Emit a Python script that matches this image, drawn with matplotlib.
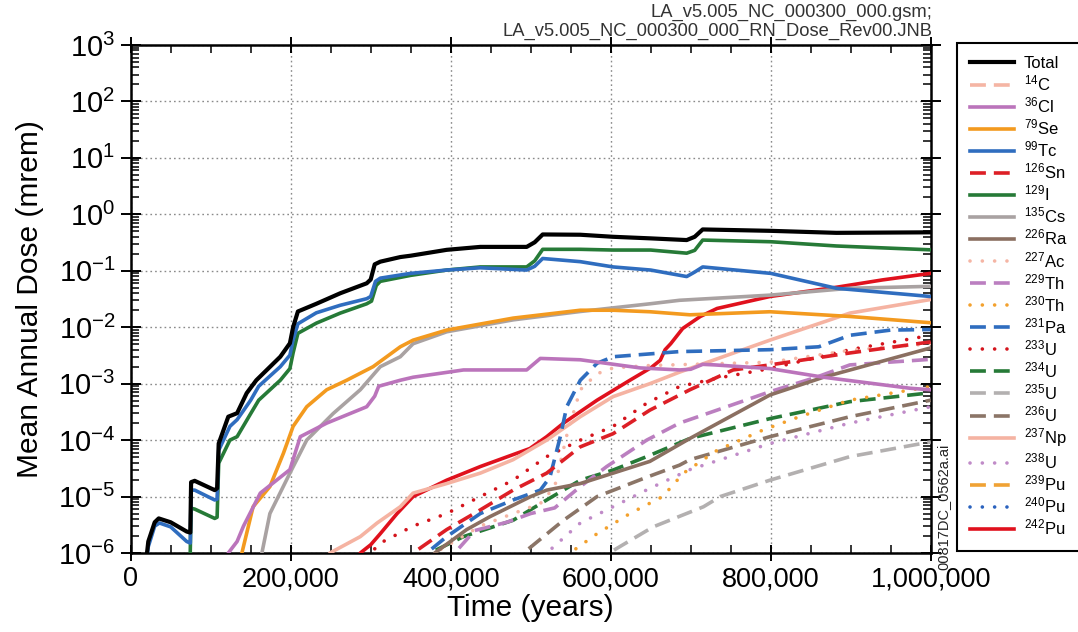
import math
import matplotlib
matplotlib.use("Agg")
import matplotlib.pyplot as plt
from matplotlib.ticker import FixedLocator, LogLocator, FuncFormatter, NullFormatter, MultipleLocator

plt.rcParams['font.family'] = ['Liberation Sans', 'DejaVu Sans']
plt.rcParams['mathtext.fontset'] = 'custom'
plt.rcParams['mathtext.rm'] = 'Liberation Sans'
plt.rcParams['mathtext.it'] = 'Liberation Sans:italic'
plt.rcParams['mathtext.bf'] = 'Liberation Sans:bold'
plt.rcParams['mathtext.default'] = 'regular'

# ---- mean annual dose (mrem) versus time (years) ----
t_total = [18000, 22000, 30000, 35000, 50000, 70000, 74500, 75500, 80000, 105000, 108000, 110000,
           122000, 133000, 145000, 157000, 187000, 199000, 203000, 209000, 232000, 262000, 295000,
           300000, 305000, 312000, 337000, 350000, 395000, 437000, 495000, 505000, 515000, 562000,
           603000, 650000, 695000, 705000, 715000, 800000, 882000, 1000000]
d_total = [5e-7, 1.6e-6, 3.5e-6, 4.1e-6, 3.5e-6, 2.4e-6, 2.3e-6, 1.8e-5, 1.9e-5, 1.3e-5, 1.4e-5, 8.7e-5,
           2.6e-4, 3.0e-4, 6.8e-4, 1.15e-3, 3.0e-3, 5.2e-3, 1.0e-2, 1.9e-2, 2.6e-2, 4.0e-2, 6.0e-2,
           7.0e-2, 1.3e-1, 1.45e-1, 1.75e-1, 1.85e-1, 2.35e-1, 2.65e-1, 2.65e-1, 3.2e-1, 4.4e-1, 4.35e-1,
           4.0e-1, 3.75e-1, 3.5e-1, 4.0e-1, 5.4e-1, 5.1e-1, 4.7e-1, 4.8e-1]

t_c14 = [0, 500000, 1000000]
d_c14 = [3e-7, 2e-7, 1e-7]

t_cl36 = [118000, 122000, 133000, 141000, 162000, 199000, 212000, 245000, 295000, 305000, 310000,
          337000, 353000, 416000, 495000, 512000, 562000, 637000, 686000, 700000, 715000, 730000,
          799000, 866000, 974000, 1000000]
d_cl36 = [5e-7, 1.0e-6, 1.6e-6, 3.0e-6, 1.15e-5, 3.0e-5, 1.15e-4, 2.0e-4, 3.9e-4, 6e-4, 9e-4,
          1.15e-3, 1.3e-3, 1.75e-3, 1.75e-3, 2.8e-3, 2.65e-3, 1.9e-3, 1.75e-3, 1.8e-3, 2.2e-3, 2.15e-3,
          1.85e-3, 1.3e-3, 8.3e-4, 7.8e-4]

t_se79 = [136000, 139000, 153000, 174000, 191000, 203000, 220000, 245000, 270000, 303000, 320000,
          337000, 353000, 395000, 478000, 562000, 603000, 649000, 699000, 799000, 899000, 1000000]
d_se79 = [5e-7, 1.0e-6, 6.6e-6, 1.5e-5, 5.9e-5, 1.75e-4, 3.9e-4, 7.8e-4, 1.15e-3, 2.0e-3, 3.0e-3,
          4.5e-3, 5.9e-3, 8.9e-3, 1.45e-2, 2.0e-2, 2.0e-2, 1.88e-2, 1.66e-2, 1.88e-2, 1.55e-2, 1.2e-2]

t_tc99 = [18000, 22000, 30000, 36000, 50000, 70000, 74500, 75500, 80000, 105000, 108000, 110000,
          124000, 133000, 150000, 160000, 187000, 199000, 203000, 209000, 232000, 262000, 295000,
          300000, 306000, 312000, 350000, 395000, 437000, 495000, 505000, 515000, 562000, 603000,
          650000, 695000, 705000, 715000, 800000, 882000, 1000000]
d_tc99 = [5e-7, 1.3e-6, 3.0e-6, 3.4e-6, 2.9e-6, 1.6e-6, 1.5e-6, 1.3e-5, 1.3e-5, 8.7e-6, 9e-6, 6.6e-5,
          1.75e-4, 2.3e-4, 5.1e-4, 9e-4, 2.0e-3, 3.2e-3, 6e-3, 1.15e-2, 1.8e-2, 2.45e-2, 3.2e-2,
          3.5e-2, 6.5e-2, 7.4e-2, 9.0e-2, 1.03e-1, 1.13e-1, 1.03e-1, 1.2e-1, 1.65e-1, 1.45e-1, 1.17e-1,
          1.03e-1, 7.9e-2, 9.5e-2, 1.17e-1, 9.0e-2, 4.9e-2, 3.5e-2]

t_sn126 = [350000, 353000, 395000, 437000, 478000, 520000, 562000, 603000, 649000, 699000, 753000,
           799000, 899000, 1000000]
d_sn126 = [5e-7, 1.0e-6, 2.6e-6, 5.8e-6, 1.3e-5, 2.6e-5, 7.6e-5, 1.3e-4, 3.4e-4, 7.8e-4, 1.75e-3,
           2.15e-3, 3.5e-3, 5.5e-3]

t_i129 = [74000, 75500, 80000, 105000, 108000, 110000, 124000, 133000, 150000, 160000, 187000,
          199000, 203000, 209000, 232000, 262000, 295000, 301000, 307000, 312000, 350000, 395000,
          437000, 495000, 505000, 515000, 562000, 603000, 650000, 695000, 705000, 715000, 800000,
          882000, 1000000]
d_i129 = [5e-7, 6.2e-6, 6.0e-6, 4.1e-6, 4.3e-6, 3.9e-5, 1.0e-4, 1.15e-4, 2.95e-4, 5.1e-4, 1.15e-3,
          1.85e-3, 3.5e-3, 7.8e-3, 1.18e-2, 1.78e-2, 2.6e-2, 2.9e-2, 5.5e-2, 6.5e-2, 8.3e-2, 1.03e-1,
          1.17e-1, 1.17e-1, 1.5e-1, 2.4e-1, 2.4e-1, 2.33e-1, 2.33e-1, 2.05e-1, 2.3e-1, 3.5e-1, 3.27e-1,
          2.75e-1, 2.35e-1]

t_cs135 = [160000, 164000, 174000, 199000, 220000, 253000, 287000, 312000, 337000, 353000, 395000,
           478000, 562000, 649000, 686000, 799000, 899000, 1000000]
d_cs135 = [5e-7, 1.0e-6, 5.0e-6, 2.6e-5, 1.0e-4, 2.95e-4, 7.8e-4, 2.0e-3, 3.0e-3, 5.1e-3, 8.3e-3,
           1.35e-2, 1.9e-2, 2.6e-2, 3.0e-2, 3.7e-2, 4.9e-2, 5.3e-2]

t_ra226 = [375000, 380000, 420000, 449000, 500000, 520000, 562000, 603000, 649000, 699000, 799000,
           866000, 1000000]
d_ra226 = [5e-7, 1.0e-6, 2.6e-6, 4.4e-6, 1.0e-5, 1.3e-5, 1.7e-5, 2.6e-5, 4.2e-5, 1.07e-4, 6.3e-4,
           1.3e-3, 4.3e-3]

t_ac227 = [375000, 380000, 437000, 478000, 512000, 530000, 545000, 562000, 583000, 603000, 649000,
           700000, 799000, 899000, 1000000]
d_ac227 = [5e-7, 1.0e-6, 3.0e-6, 5.0e-6, 7.5e-6, 1.5e-5, 1.2e-4, 7.8e-4, 1.5e-3, 1.9e-3, 2.1e-3,
           2.2e-3, 2.4e-3, 3.9e-3, 5.1e-3]

t_th229 = [400000, 405000, 430000, 470000, 500000, 530000, 562000, 595000, 645000, 686000, 733000,
           799000, 857000, 899000, 1000000]
d_th229 = [5e-7, 1.0e-6, 2.5e-6, 3.5e-6, 5.0e-6, 6.3e-6, 1.5e-5, 3.4e-5, 1.0e-4, 2.0e-4, 3.4e-4,
           7.2e-4, 1.3e-3, 2.15e-3, 2.7e-3]

t_th230 = [545000, 549000, 583000, 624000, 665000, 691000, 733000, 790000, 836000, 899000, 1000000]
d_th230 = [5e-7, 1.0e-6, 2.2e-6, 5.0e-6, 1.0e-5, 2.6e-5, 6.6e-5, 1.5e-4, 2.6e-4, 5.1e-4, 8.9e-4]

t_pa231 = [365000, 370000, 395000, 437000, 478000, 512000, 524000, 537000, 545000, 562000, 583000,
           603000, 686000, 799000, 860000, 899000, 950000, 1000000]
d_pa231 = [5e-7, 1.0e-6, 1.95e-6, 5.0e-6, 8.7e-6, 1.3e-5, 2.2e-5, 1.15e-4, 3.9e-4, 1.15e-3, 2.3e-3,
           3.0e-3, 3.7e-3, 4.0e-3, 4.5e-3, 7.2e-3, 8.9e-3, 9.1e-3]

t_u233 = [290000, 300000, 312000, 353000, 395000, 437000, 478000, 520000, 562000, 603000, 645000,
          686000, 733000, 799000, 899000, 1000000]
d_u233 = [5e-7, 1.0e-6, 1.5e-6, 3.0e-6, 5.0e-6, 1.0e-5, 1.95e-5, 5.1e-5, 1.0e-4, 1.75e-4, 4.5e-4,
          8.9e-4, 1.25e-3, 1.85e-3, 4.0e-3, 7.2e-3]

t_u234 = [370000, 374000, 416000, 478000, 520000, 562000, 603000, 645000, 699000, 799000, 899000, 1000000]
d_u234 = [5e-7, 1.0e-6, 1.95e-6, 3.8e-6, 8.7e-6, 1.95e-5, 2.95e-5, 5.1e-5, 1.07e-4, 2.4e-4, 4.8e-4, 6.9e-4]

t_u235 = [590000, 598000, 653000, 716000, 737000, 799000, 899000, 1000000]
d_u235 = [5e-7, 1.0e-6, 2.9e-6, 6.6e-6, 1.0e-5, 1.95e-5, 5.1e-5, 9.3e-5]

t_u236 = [488000, 491000, 541000, 583000, 645000, 686000, 699000, 799000, 899000, 1000000]
d_u236 = [5e-7, 1.0e-6, 3.8e-6, 1.0e-5, 2.2e-5, 3.6e-5, 4.5e-5, 1.15e-4, 2.6e-4, 5.1e-4]

t_np237 = [246000, 249000, 287000, 308000, 337000, 353000, 395000, 437000, 478000, 520000, 562000,
           603000, 649000, 686000, 799000, 899000, 1000000]
d_np237 = [5e-7, 1.0e-6, 1.95e-6, 3.4e-6, 6.6e-6, 1.15e-5, 1.7e-5, 2.6e-5, 4.5e-5, 1.0e-4, 2.6e-4,
           5.9e-4, 1.0e-3, 1.6e-3, 5.9e-3, 1.78e-2, 3.1e-2]

t_u238 = [515000, 520000, 562000, 603000, 649000, 699000, 799000, 899000, 1000000]
d_u238 = [5e-7, 1.0e-6, 3.4e-6, 6.6e-6, 1.4e-5, 3.0e-5, 8.7e-5, 2.0e-4, 3.9e-4]

t_pu239 = [0, 500000, 1000000]
d_pu239 = [1e-7, 2e-7, 4e-7]

t_pu240 = [0, 500000, 1000000]
d_pu240 = [1e-7, 1.5e-7, 3e-7]

t_pu242 = [284000, 287000, 300000, 312000, 333000, 353000, 395000, 437000, 499000, 520000, 541000,
           583000, 624000, 650000, 662000, 668000, 675000, 690000, 712000, 733000, 799000, 882000,
           940000, 1000000]
d_pu242 = [5e-7, 1.0e-6, 1.4e-6, 2.2e-6, 5.0e-6, 1.0e-5, 1.95e-5, 3.4e-5, 7.1e-5, 1.15e-4, 2.0e-4,
           5.1e-4, 1.15e-3, 1.9e-3, 2.6e-3, 4.0e-3, 5.1e-3, 9.5e-3, 1.55e-2, 2.15e-2, 3.5e-2, 5.1e-2,
           6.9e-2, 9.0e-2]

x_ticks = [0, 200000, 400000, 600000, 800000, 1000000]
y_exponents = [-6, -5, -4, -3, -2, -1, 0, 1, 2, 3]

# ---- styling ----
SOLID = '-'
DASH = (0, (4.4, 2.2))
DOT = (0, (0.01, 3.4))

series = [
    ('Total', t_total, d_total, 'black', SOLID),
    ('$^{14}$C', t_c14, d_c14, '#f5b5a4', DASH),
    ('$^{36}$Cl', t_cl36, d_cl36, '#bb74bb', SOLID),
    ('$^{79}$Se', t_se79, d_se79, '#f39a1f', SOLID),
    ('$^{99}$Tc', t_tc99, d_tc99, '#2f6dbf', SOLID),
    ('$^{126}$Sn', t_sn126, d_sn126, '#dd1f26', DASH),
    ('$^{129}$I', t_i129, d_i129, '#267a37', SOLID),
    ('$^{135}$Cs', t_cs135, d_cs135, '#a9a2a2', SOLID),
    ('$^{226}$Ra', t_ra226, d_ra226, '#8b6f61', SOLID),
    ('$^{227}$Ac', t_ac227, d_ac227, '#f5b5a4', DOT),
    ('$^{229}$Th', t_th229, d_th229, '#bb7fc0', DASH),
    ('$^{230}$Th', t_th230, d_th230, '#f3a12e', DOT),
    ('$^{231}$Pa', t_pa231, d_pa231, '#2f6dbf', DASH),
    ('$^{233}$U', t_u233, d_u233, '#d4141c', DOT),
    ('$^{234}$U', t_u234, d_u234, '#267a37', DASH),
    ('$^{235}$U', t_u235, d_u235, '#b3b0b0', DASH),
    ('$^{236}$U', t_u236, d_u236, '#8b7567', DASH),
    ('$^{237}$Np', t_np237, d_np237, '#f5b3a2', SOLID),
    ('$^{238}$U', t_u238, d_u238, '#c08bc8', DOT),
    ('$^{239}$Pu', t_pu239, d_pu239, '#f0a234', DASH),
    ('$^{240}$Pu', t_pu240, d_pu240, '#2a62be', DOT),
    ('$^{242}$Pu', t_pu242, d_pu242, '#e0111d', SOLID),
]

fig = plt.figure(figsize=(10.78, 6.32), dpi=100)
ax = fig.add_axes([130.7 / 1078, 79 / 632, 800 / 1078, 508 / 632])

for i, (label, t, d, color, ls) in enumerate(series):
    is_total = label == 'Total'
    ax.plot(t, d, color=color, linestyle=ls, lw=3.0 if is_total else 2.6,
            dash_capstyle='round' if ls is DOT else 'butt',
            solid_joinstyle='round', label=label,
            zorder=10 if is_total else 3 + (len(series) - i) * 0.01)

ax.set_yscale('log')
ax.set_xlim(0, 1000000)
ax.set_ylim(1e-6, 1e3)

ax.xaxis.set_major_locator(FixedLocator(x_ticks))
ax.xaxis.set_minor_locator(MultipleLocator(50000))
ax.xaxis.set_major_formatter(FuncFormatter(lambda v, p: f'{int(v):,}'))
ax.yaxis.set_major_locator(FixedLocator([10.0 ** e for e in y_exponents]))
ax.yaxis.set_major_formatter(FuncFormatter(lambda v, p: '10$^{%d}$' % round(math.log10(v))))
ax.yaxis.set_minor_locator(LogLocator(base=10, subs=[2, 3, 4, 5, 6, 7, 8, 9], numticks=20))
ax.yaxis.set_minor_formatter(NullFormatter())

ax.tick_params(axis='both', which='major', direction='inout', length=11, width=1.4,
               top=True, right=True, pad=4)
ax.tick_params(axis='x', which='major', labelsize=19.5)
ax.tick_params(axis='y', which='major', labelsize=21, length=14, pad=4)
ax.tick_params(axis='both', which='minor', direction='in', length=6, width=1.1,
               top=True, right=True)
for s in ax.spines.values():
    s.set_linewidth(1.8)

ax.grid(True, which='major', color='#8a8a8a', linestyle=(0, (1.2, 2.2)), linewidth=1.0)

ax.set_xlabel('Time (years)', fontsize=21.5, labelpad=1)
ax.set_ylabel('Mean Annual Dose (mrem)', fontsize=21.5, labelpad=10)

leg = ax.legend(loc='upper left', bbox_to_anchor=(957 / 1078, 1 - 43 / 632),
                bbox_transform=fig.transFigure, borderaxespad=0, fontsize=12,
                frameon=True, fancybox=False, edgecolor='black', framealpha=1,
                handlelength=2.6, handletextpad=0.6, labelspacing=0.13, borderpad=0.8)
leg.get_frame().set_linewidth(1.5)

fig.text(932 / 1078, 1 - 12 / 632, 'LA_v5.005_NC_000300_000.gsm;', ha='right', va='center',
         fontsize=13.2, color='#333333')
fig.text(932 / 1078, 1 - 31 / 632, 'LA_v5.005_NC_000300_000_RN_Dose_Rev00.JNB', ha='right',
         va='center', fontsize=13.2, color='#333333')
fig.text(943 / 1078, 1 - 570 / 632, '00817DC_0562a.ai', rotation=90, ha='center', va='bottom',
         fontsize=10.5, color='#222222')

fig.savefig('out.png', dpi=100)
